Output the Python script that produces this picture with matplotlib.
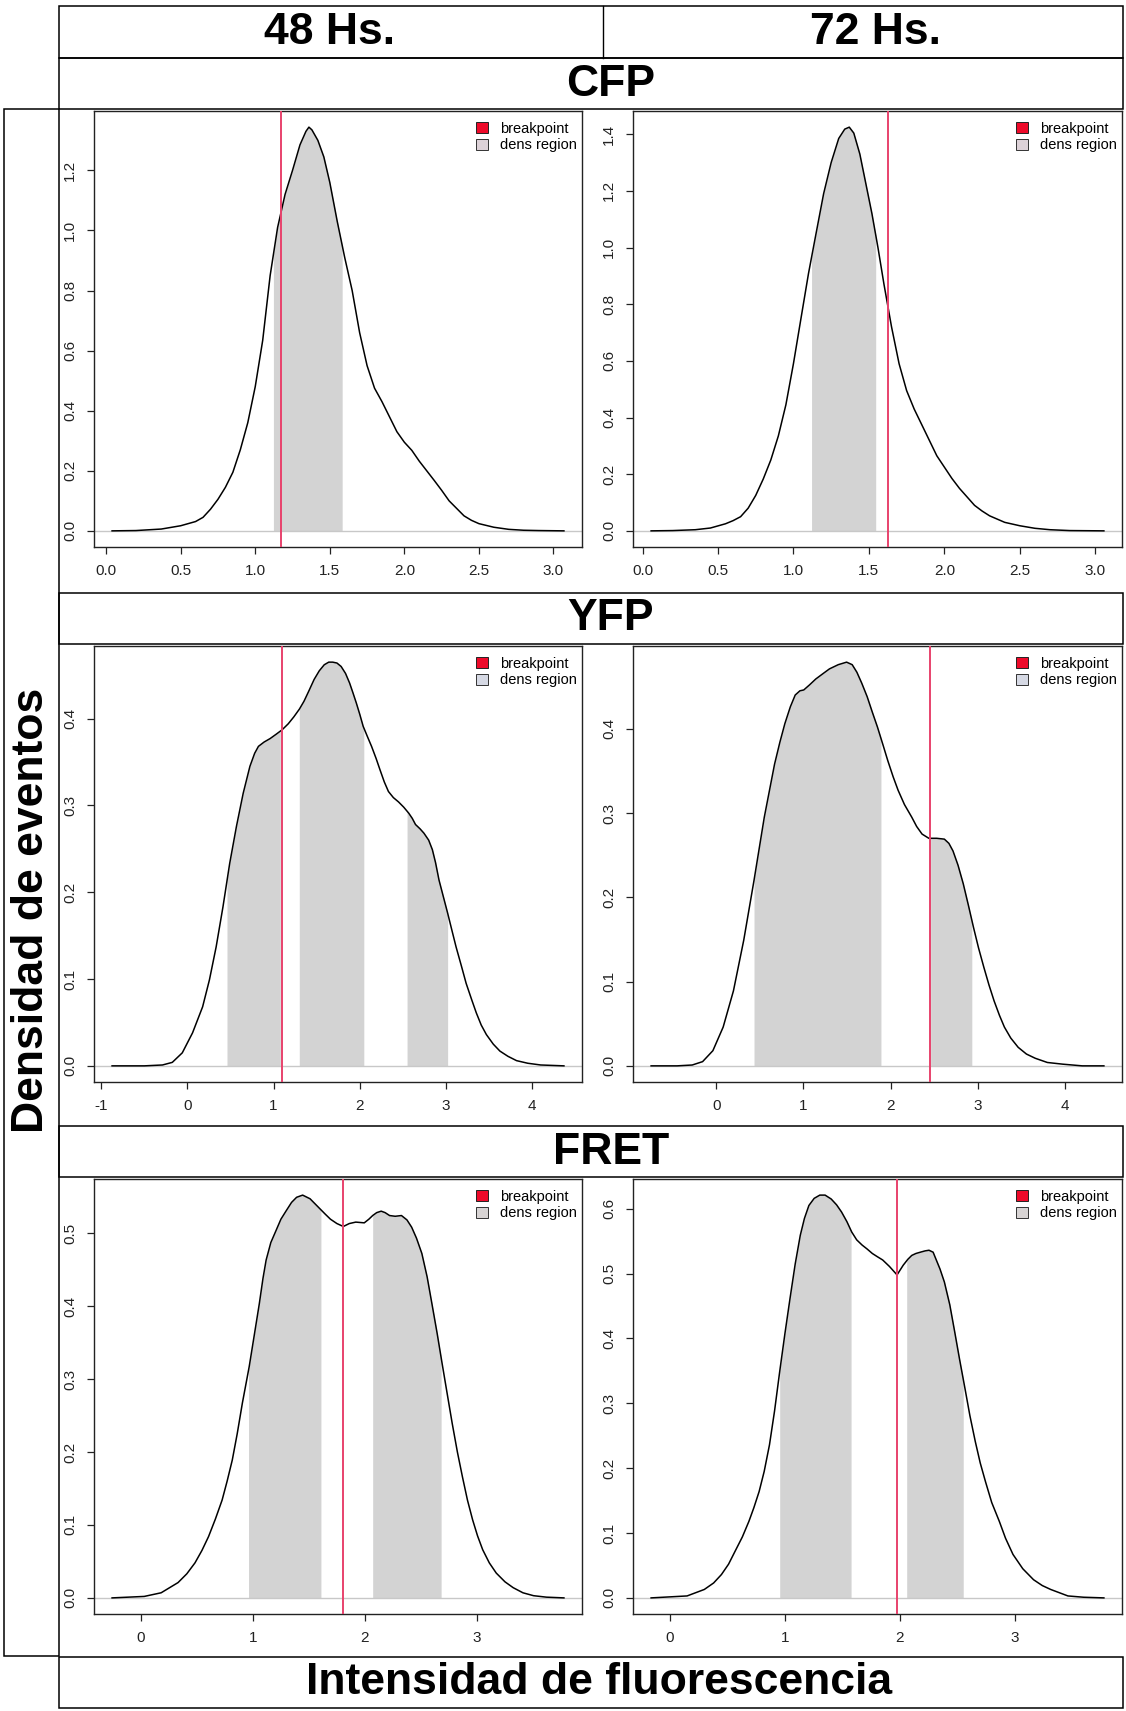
import numpy as np
import matplotlib
matplotlib.use("Agg")
import matplotlib.pyplot as plt
from matplotlib.patches import Rectangle, Patch
from matplotlib.lines import Line2D

plt.rcParams['font.family'] = ['Liberation Sans', 'DejaVu Sans']

W, H = 1126, 1711

col_labels = ["48 Hs.", "72 Hs."]
row_labels = ["CFP", "YFP", "FRET"]
y_title = "Densidad de eventos"
x_title = "Intensidad de fluorescencia"
legend_labels = ["breakpoint", "dens region"]

# ---- CFP, 48 h ----
cfp48_x = [0.04, 0.2, 0.37, 0.5, 0.6, 0.65, 0.7, 0.75, 0.8, 0.85, 0.9, 0.95, 1.0, 1.05, 1.1,
           1.15, 1.2, 1.25, 1.3, 1.34, 1.36, 1.38, 1.42, 1.46, 1.5, 1.55, 1.6, 1.65, 1.7, 1.75,
           1.8, 1.85, 1.9, 1.95, 2.0, 2.05, 2.1, 2.15, 2.2, 2.25, 2.3, 2.35, 2.4, 2.45, 2.5,
           2.6, 2.7, 2.8, 2.9, 3.07]
cfp48_y = [0.0, 0.001, 0.006, 0.017, 0.031, 0.045, 0.072, 0.105, 0.145, 0.195, 0.27, 0.36,
           0.48, 0.634, 0.85, 1.01, 1.12, 1.2, 1.285, 1.33, 1.344, 1.335, 1.3, 1.245, 1.16,
           1.03, 0.91, 0.8, 0.66, 0.55, 0.475, 0.43, 0.38, 0.33, 0.295, 0.268, 0.232, 0.2,
           0.168, 0.135, 0.1, 0.075, 0.05, 0.035, 0.024, 0.012, 0.005, 0.002, 0.001, 0.0]
cfp48_break = 1.17
cfp48_regions = [(1.122, 1.583)]

# ---- CFP, 72 h ----
cfp72_x = [0.057, 0.2, 0.35, 0.45, 0.55, 0.6, 0.65, 0.7, 0.75, 0.8, 0.85, 0.9, 0.95, 1.0,
           1.05, 1.1, 1.15, 1.2, 1.25, 1.3, 1.34, 1.37, 1.4, 1.44, 1.48, 1.52, 1.56, 1.6,
           1.65, 1.7, 1.75, 1.8, 1.85, 1.9, 1.95, 2.0, 2.05, 2.1, 2.15, 2.2, 2.25, 2.3, 2.4,
           2.5, 2.6, 2.7, 2.83, 3.057]
cfp72_y = [0.0, 0.001, 0.004, 0.01, 0.025, 0.036, 0.05, 0.08, 0.125, 0.183, 0.25, 0.335,
           0.445, 0.59, 0.75, 0.909, 1.05, 1.19, 1.3, 1.385, 1.418, 1.425, 1.404, 1.33, 1.225,
           1.12, 1.0, 0.87, 0.72, 0.59, 0.495, 0.43, 0.375, 0.32, 0.265, 0.225, 0.185, 0.15,
           0.12, 0.09, 0.07, 0.053, 0.03, 0.018, 0.009, 0.004, 0.001, 0.0]
cfp72_break = 1.625
cfp72_regions = [(1.12, 1.545)]

# ---- YFP, 48 h ----
yfp48_x = [-0.875, -0.5, -0.29, -0.176, -0.06, 0.059, 0.176, 0.255, 0.333, 0.412, 0.49,
           0.569, 0.647, 0.725, 0.78, 0.824, 0.89, 0.96, 1.03, 1.098, 1.17, 1.235, 1.3,
           1.353, 1.41, 1.47, 1.53, 1.588, 1.64, 1.686, 1.735, 1.784, 1.835, 1.882, 1.92,
           1.96, 2.0, 2.04, 2.09, 2.137, 2.19, 2.235, 2.285, 2.333, 2.39, 2.45, 2.51, 2.569,
           2.61, 2.647, 2.7, 2.745, 2.8, 2.843, 2.88, 2.92, 2.97, 3.02, 3.07, 3.118, 3.18,
           3.235, 3.3, 3.353, 3.41, 3.47, 3.55, 3.627, 3.72, 3.82, 3.95, 4.10, 4.37]
yfp48_y = [0.0, 0.0, 0.001, 0.004, 0.015, 0.038, 0.068, 0.099, 0.137, 0.183, 0.233, 0.276,
           0.314, 0.345, 0.36, 0.368, 0.373, 0.377, 0.382, 0.387, 0.394, 0.402, 0.411, 0.42,
           0.432, 0.445, 0.455, 0.462, 0.465, 0.465, 0.464, 0.46, 0.452, 0.441, 0.43, 0.418,
           0.405, 0.391, 0.379, 0.368, 0.354, 0.341, 0.327, 0.316, 0.309, 0.304, 0.298, 0.291,
           0.285, 0.278, 0.273, 0.268, 0.26, 0.249, 0.234, 0.214, 0.195, 0.176, 0.156, 0.137,
           0.115, 0.095, 0.076, 0.061, 0.047, 0.036, 0.025, 0.017, 0.011, 0.006, 0.003, 0.001,
           0.0]
yfp48_break = 1.098
yfp48_regions = [(0.459, 1.078), (1.298, 2.047), (2.549, 3.02)]

# ---- YFP, 72 h ----
yfp72_x = [-0.748, -0.45, -0.276, -0.157, -0.039, 0.079, 0.197, 0.315, 0.433, 0.551, 0.669,
           0.73, 0.787, 0.85, 0.906, 0.96, 1.004, 1.07, 1.142, 1.22, 1.299, 1.4, 1.496, 1.56,
           1.614, 1.67, 1.732, 1.79, 1.85, 1.91, 1.969, 2.03, 2.087, 2.16, 2.244, 2.3, 2.362,
           2.44, 2.53, 2.618, 2.67, 2.717, 2.775, 2.835, 2.895, 2.953, 3.01, 3.071, 3.13,
           3.189, 3.25, 3.307, 3.38, 3.465, 3.56, 3.661, 3.8, 3.976, 4.2, 4.449]
yfp72_y = [0.0, 0.0, 0.001, 0.005, 0.018, 0.046, 0.089, 0.149, 0.22, 0.295, 0.358, 0.384,
           0.406, 0.426, 0.44, 0.445, 0.446, 0.452, 0.459, 0.465, 0.471, 0.476, 0.479, 0.476,
           0.467, 0.454, 0.438, 0.42, 0.402, 0.382, 0.362, 0.343, 0.327, 0.31, 0.295, 0.284,
           0.275, 0.27, 0.27, 0.269, 0.264, 0.255, 0.238, 0.216, 0.19, 0.164, 0.14, 0.117,
           0.096, 0.077, 0.06, 0.046, 0.033, 0.022, 0.014, 0.009, 0.004, 0.002, 0.0, 0.0]
yfp72_break = 2.449
yfp72_regions = [(0.433, 1.89), (2.46, 2.933)]

# ---- FRET, 48 h ----
fret48_x = [-0.257, 0.03, 0.181, 0.332, 0.41, 0.483, 0.545, 0.604, 0.665, 0.725, 0.77, 0.816,
            0.86, 0.906, 0.967, 1.01, 1.057, 1.09, 1.118, 1.16, 1.208, 1.25, 1.299, 1.345,
            1.39, 1.444, 1.51, 1.555, 1.60, 1.645, 1.692, 1.75, 1.807, 1.86, 1.918, 1.994,
            2.035, 2.069, 2.105, 2.145, 2.18, 2.22, 2.27, 2.326, 2.375, 2.417, 2.46, 2.508,
            2.555, 2.598, 2.645, 2.689, 2.735, 2.779, 2.825, 2.87, 2.915, 2.961, 3.005, 3.051,
            3.11, 3.172, 3.25, 3.323, 3.41, 3.505, 3.62, 3.776]
fret48_y = [0.0, 0.002, 0.007, 0.021, 0.033, 0.048, 0.065, 0.084, 0.108, 0.134, 0.16, 0.189,
            0.225, 0.267, 0.317, 0.358, 0.403, 0.438, 0.463, 0.487, 0.504, 0.519, 0.531,
            0.542, 0.549, 0.552, 0.547, 0.54, 0.533, 0.526, 0.519, 0.513, 0.509, 0.513,
            0.515, 0.514, 0.519, 0.524, 0.528, 0.53, 0.528, 0.524, 0.523, 0.524, 0.518,
            0.508, 0.493, 0.472, 0.44, 0.403, 0.362, 0.321, 0.279, 0.239, 0.2, 0.166, 0.134,
            0.107, 0.085, 0.066, 0.048, 0.034, 0.022, 0.014, 0.007, 0.003, 0.001, 0.0]
fret48_break = 1.807
fret48_regions = [(0.961, 1.607), (2.069, 2.68)]

# ---- FRET, 72 h ----
fret72_x = [-0.164, 0.149, 0.299, 0.38, 0.448, 0.51, 0.567, 0.63, 0.687, 0.73, 0.776, 0.82,
            0.866, 0.91, 0.955, 1.0, 1.045, 1.09, 1.134, 1.17, 1.209, 1.255, 1.304, 1.35,
            1.403, 1.45, 1.493, 1.54, 1.582, 1.625, 1.672, 1.715, 1.761, 1.805, 1.851, 1.91,
            1.976, 2.03, 2.07, 2.104, 2.14, 2.179, 2.22, 2.254, 2.29, 2.313, 2.35, 2.388,
            2.435, 2.478, 2.52, 2.567, 2.61, 2.657, 2.7, 2.746, 2.8, 2.866, 2.92, 2.985, 3.07,
            3.164, 3.24, 3.313, 3.463, 3.6, 3.776]
fret72_y = [0.0, 0.003, 0.013, 0.023, 0.036, 0.052, 0.072, 0.094, 0.118, 0.139, 0.164, 0.195,
            0.236, 0.288, 0.349, 0.407, 0.462, 0.515, 0.559, 0.585, 0.605, 0.616, 0.621,
            0.621, 0.615, 0.606, 0.595, 0.58, 0.564, 0.552, 0.544, 0.538, 0.531, 0.526, 0.521,
            0.511, 0.498, 0.513, 0.522, 0.528, 0.531, 0.533, 0.535, 0.536, 0.533, 0.523,
            0.507, 0.487, 0.452, 0.41, 0.368, 0.323, 0.281, 0.241, 0.208, 0.179, 0.147, 0.118,
            0.092, 0.067, 0.045, 0.028, 0.019, 0.013, 0.003, 0.001, 0.0]
fret72_break = 1.976
fret72_regions = [(0.955, 1.576), (2.06, 2.552)]

# tick labels per row
cfp_xticks = [0.0, 0.5, 1.0, 1.5, 2.0, 2.5, 3.0]
cfp_xlabels = ["0.0", "0.5", "1.0", "1.5", "2.0", "2.5", "3.0"]
cfp48_yticks = [0.0, 0.2, 0.4, 0.6, 0.8, 1.0, 1.2]
cfp48_ylabels = ["0.0", "0.2", "0.4", "0.6", "0.8", "1.0", "1.2"]
cfp72_yticks = [0.0, 0.2, 0.4, 0.6, 0.8, 1.0, 1.2, 1.4]
cfp72_ylabels = ["0.0", "0.2", "0.4", "0.6", "0.8", "1.0", "1.2", "1.4"]
yfp48_xticks = [-1, 0, 1, 2, 3, 4]
yfp48_xlabels = ["-1", "0", "1", "2", "3", "4"]
yfp72_xticks = [0, 1, 2, 3, 4]
yfp72_xlabels = ["0", "1", "2", "3", "4"]
yfp_yticks = [0.0, 0.1, 0.2, 0.3, 0.4]
yfp_ylabels = ["0.0", "0.1", "0.2", "0.3", "0.4"]
fret_xticks = [0, 1, 2, 3]
fret_xlabels = ["0", "1", "2", "3"]
fret48_yticks = [0.0, 0.1, 0.2, 0.3, 0.4, 0.5]
fret48_ylabels = ["0.0", "0.1", "0.2", "0.3", "0.4", "0.5"]
fret72_yticks = [0.0, 0.1, 0.2, 0.3, 0.4, 0.5, 0.6]
fret72_ylabels = ["0.0", "0.1", "0.2", "0.3", "0.4", "0.5", "0.6"]

panels = [
    # (row, col, x, y, break, regions, xticks, xlabels, yticks, ylabels)
    (0, 0, cfp48_x, cfp48_y, cfp48_break, cfp48_regions, cfp_xticks, cfp_xlabels, cfp48_yticks, cfp48_ylabels),
    (0, 1, cfp72_x, cfp72_y, cfp72_break, cfp72_regions, cfp_xticks, cfp_xlabels, cfp72_yticks, cfp72_ylabels),
    (1, 0, yfp48_x, yfp48_y, yfp48_break, yfp48_regions, yfp48_xticks, yfp48_xlabels, yfp_yticks, yfp_ylabels),
    (1, 1, yfp72_x, yfp72_y, yfp72_break, yfp72_regions, yfp72_xticks, yfp72_xlabels, yfp_yticks, yfp_ylabels),
    (2, 0, fret48_x, fret48_y, fret48_break, fret48_regions, fret_xticks, fret_xlabels, fret48_yticks, fret48_ylabels),
    (2, 1, fret72_x, fret72_y, fret72_break, fret72_regions, fret_xticks, fret_xlabels, fret72_yticks, fret72_ylabels),
]

FILL = "#d3d3d3"
BREAK_COL = "#e8426c"
LEG_RED = "#ee0a2a"
LEG_GREY = ["#ddd2d8", "#d6d9e4", "#d8d4d4"]

fig = plt.figure(figsize=(W / 100, H / 100), dpi=100)


def px_rect(x0, y0, x1, y1):
    """Figure-fraction rectangle from pixel corners (origin top-left)."""
    return [x0 / W, 1 - y1 / H, (x1 - x0) / W, (y1 - y0) / H]


def frame(x0, y0, x1, y1, lw=1.1):
    l, b, w, h = px_rect(x0, y0, x1, y1)
    fig.add_artist(Rectangle((l, b), w, h, transform=fig.transFigure,
                             fill=False, ec="black", lw=lw))


# strip boxes and titles
frame(59, 6, 1123, 58)
fig.add_artist(Line2D([603 / W, 603 / W], [1 - 6 / H, 1 - 58 / H],
                      transform=fig.transFigure, color="black", lw=1.0))
frame(59, 58, 1123, 109)
frame(4, 109, 59, 1656)
frame(59, 593, 1123, 644)
frame(59, 1126, 1123, 1177)
frame(59, 1657, 1123, 1708)

title_kw = dict(fontsize=32, fontweight="bold", ha="center", va="center")
fig.text(330 / W, 1 - 33 / H, col_labels[0], **title_kw)
fig.text(875 / W, 1 - 33 / H, col_labels[1], **title_kw)
for lab, yc in zip(row_labels, [84, 619, 1152]):
    fig.text(611 / W, 1 - yc / H, lab, **title_kw)
fig.text(599 / W, 1 - 1683 / H, x_title, **title_kw)
fig.text(32 / W, 1 - 910 / H, y_title, rotation=90, **title_kw)

col_x = [(94, 582), (633, 1122)]
row_y = [(111, 547), (646, 1082), (1179, 1614)]

for (r, c, xs, ys, brk, regions, xt, xl, yt, yl) in panels:
    x = np.asarray(xs, dtype=float)
    y = np.asarray(ys, dtype=float)
    x0, x1 = col_x[c]
    y0, y1 = row_y[r]
    ax = fig.add_axes(px_rect(x0, y0, x1, y1))

    for a, b in regions:
        inner = x[(x > a) & (x < b)]
        fx = np.concatenate([[a], inner, [b]])
        fy = np.interp(fx, x, y)
        ax.fill_between(fx, 0, fy, color=FILL, lw=0, zorder=1)

    ax.axhline(0, color="#c8c8c8", lw=1.0, zorder=2)
    ax.plot(x, y, color="black", lw=1.1, zorder=3, solid_joinstyle="round")
    ax.axvline(brk, color=BREAK_COL, lw=1.4, zorder=4)

    xr = x.max() - x.min()
    ax.set_xlim(x.min() - 0.04 * xr, x.max() + 0.04 * xr)
    ymax = y.max()
    ax.set_ylim(-0.04 * ymax, 1.04 * ymax)

    ax.set_xticks(xt)
    ax.set_xticklabels(xl)
    ax.set_yticks(yt)
    ax.set_yticklabels(yl, rotation=90, va="center")
    ax.tick_params(axis="both", direction="out", length=5, width=0.9,
                   labelsize=11, colors="#222222")
    ax.tick_params(axis="x", pad=7)
    ax.tick_params(axis="y", pad=7)
    for sp in ax.spines.values():
        sp.set_linewidth(1.0)
        sp.set_color("#222222")

    handles = [Patch(facecolor=LEG_RED, edgecolor="#222222", lw=0.7),
               Patch(facecolor=LEG_GREY[r], edgecolor="#333333", lw=0.7)]
    aw, ah = x1 - x0, y1 - y0
    ax.legend(handles, legend_labels, loc="upper right", frameon=False,
              bbox_to_anchor=(1 - 5 / aw, 1 - 11 / ah),
              fontsize=10.5, handlelength=0.78, handleheight=0.78,
              handletextpad=0.85, labelspacing=0.15, borderaxespad=0.0,
              borderpad=0.0)

fig.savefig("out.png", dpi=100)
